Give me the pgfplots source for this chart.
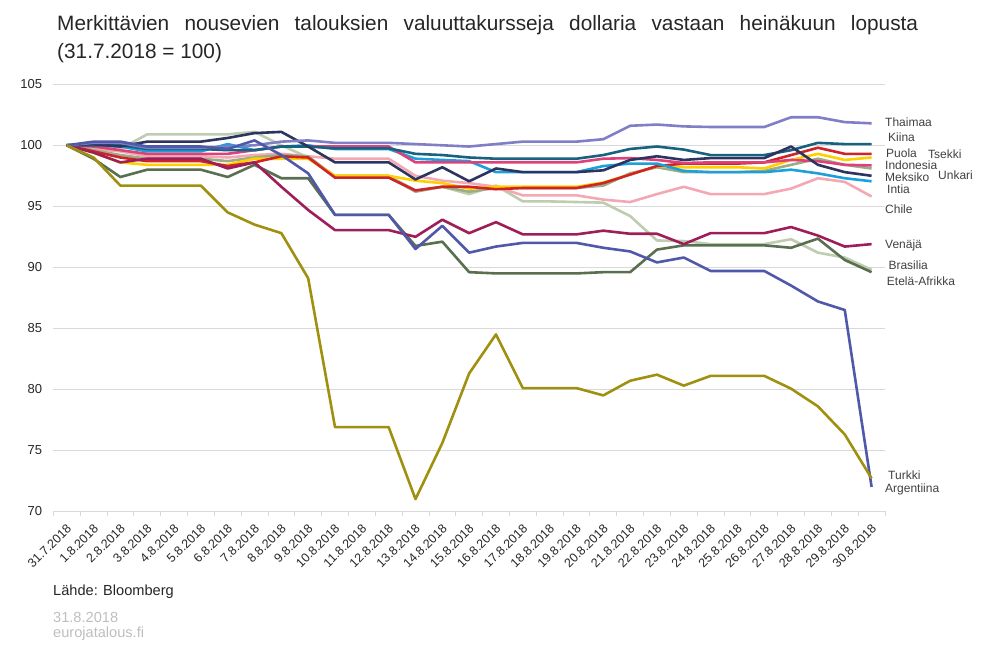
\documentclass[border=0pt]{standalone}
\usepackage{fontspec}
\setmainfont{Liberation Sans}
\usepackage{pgfplots}
\pgfplotsset{compat=1.18}
\usepackage{pgfplotstable}

\definecolor{cTha}{RGB}{128,126,198}
\definecolor{cKii}{RGB}{24,98,128}
\definecolor{cPuo}{RGB}{206,36,40}
\definecolor{cTse}{RGB}{255,208,0}
\definecolor{cInd}{RGB}{222,64,122}
\definecolor{cUnk}{RGB}{156,172,132}
\definecolor{cMek}{RGB}{44,52,96}
\definecolor{cInt}{RGB}{28,160,220}
\definecolor{cChi}{RGB}{244,168,180}
\definecolor{cBra}{RGB}{190,204,176}
\definecolor{cEA}{RGB}{90,110,80}
\definecolor{cVen}{RGB}{158,30,90}
\definecolor{cArg}{RGB}{80,88,170}
\definecolor{cTur}{RGB}{160,144,16}
\definecolor{gridg}{RGB}{217,217,217}
\definecolor{txt}{RGB}{38,38,38}
\definecolor{lbl}{RGB}{64,64,64}
\definecolor{foot}{RGB}{190,190,190}

\pgfplotstableread{
i tha kii puo tse ind unk mek int chi bra ea ven arg tur
0 100 100 100 100 100 100 100 100 100 100 100 100 100 100
1 100.2 100.0 99.5 99.4 99.9 99.6 100.1 100.0 99.7 100.0 98.9 99.4 100.3 99.0
2 100.2 100.0 99.0 98.6 99.6 99.2 99.9 99.9 99.5 99.7 97.4 98.6 100.3 96.7
3 99.8 99.7 98.7 98.4 99.3 98.9 100.3 99.5 99.1 100.9 98.0 98.9 99.9 96.7
4 99.8 99.7 98.7 98.4 99.3 98.9 100.3 99.5 99.1 100.9 98.0 98.9 99.9 96.7
5 99.8 99.7 98.7 98.4 99.3 98.9 100.3 99.5 99.1 100.9 98.0 98.9 99.9 96.7
6 99.9 99.6 98.3 98.4 99.3 98.7 100.6 100.1 99.0 100.9 97.4 98.1 99.7 94.5
7 100.0 99.6 98.6 98.9 99.6 99.0 101.0 99.6 99.2 101.1 98.4 98.6 100.4 93.5
8 100.3 99.9 99.1 98.9 99.9 99.2 101.1 99.9 99.3 100.0 97.3 96.6 99.2 92.8
9 100.4 99.9 99.0 98.9 99.9 99.1 99.9 100.0 99.1 99.0 97.3 94.7 97.7 89.1
10 100.2 99.75 97.35 97.5 99.9 97.4 98.6 99.7 98.9 97.5 94.3 93.05 94.3 76.9
11 100.2 99.75 97.35 97.5 99.9 97.4 98.6 99.7 98.9 97.5 94.3 93.05 94.3 76.9
12 100.2 99.75 97.35 97.5 99.9 97.4 98.6 99.7 98.9 97.5 94.3 93.05 94.3 76.9
13 100.1 99.3 96.3 97.1 98.6 96.2 97.2 98.9 97.5 96.3 91.75 92.5 91.5 71.0
14 100.0 99.2 96.6 96.9 98.6 96.6 98.2 98.8 97.1 96.6 92.1 93.9 93.4 75.6
15 99.9 99.0 96.6 96.45 98.6 96.2 97.05 98.7 96.9 96.0 89.6 92.8 91.2 81.3
16 100.1 98.9 96.4 96.6 98.6 96.5 98.1 97.8 96.6 96.7 89.5 93.7 91.7 84.5
17 100.3 98.9 96.5 96.6 98.6 96.5 97.8 97.8 95.9 95.4 89.5 92.7 92.0 80.1
18 100.3 98.9 96.5 96.6 98.6 96.5 97.8 97.8 95.9 95.4 89.5 92.7 92.0 80.1
19 100.3 98.9 96.5 96.6 98.6 96.5 97.8 97.8 95.9 95.35 89.5 92.7 92.0 80.1
20 100.5 99.2 96.9 96.95 98.9 96.7 97.95 98.3 95.55 95.3 89.6 93.0 91.6 79.5
21 101.6 99.7 97.6 97.6 98.95 97.7 98.8 98.5 95.35 94.2 89.6 92.75 91.3 80.7
22 101.7 99.9 98.3 98.3 98.8 98.2 99.1 98.5 96.0 92.2 91.45 92.75 90.4 81.2
23 101.55 99.65 98.5 98.2 98.55 97.8 98.8 97.9 96.6 92.15 91.8 91.9 90.8 80.3
24 101.5 99.2 98.5 98.2 98.6 97.8 98.95 97.8 96.0 91.9 91.8 92.8 89.7 81.1
25 101.5 99.2 98.5 98.2 98.6 97.8 98.95 97.8 96.0 91.9 91.8 92.8 89.7 81.1
26 101.5 99.2 98.6 98.1 98.6 97.9 98.95 97.8 96.0 91.9 91.8 92.8 89.7 81.1
27 102.3 99.6 99.2 98.8 98.8 98.4 99.9 98.0 96.45 92.3 91.6 93.3 88.5 80.05
28 102.3 100.2 99.8 99.3 98.7 98.9 98.4 97.7 97.3 91.2 92.35 92.6 87.2 78.6
29 101.9 100.1 99.3 98.8 98.4 98.4 97.8 97.3 97.0 90.8 90.6 91.7 86.5 76.3
30 101.8 100.1 99.3 99.0 98.35 98.1 97.5 97.05 95.8 89.8 89.6 91.9 72.0 72.7
}\data

\begin{document}
\begin{tikzpicture}
\path[use as bounding box] (0,0) rectangle (1001bp,654bp);
\begin{axis}[
  at={(53.3bp,142.7bp)}, anchor=south west,
  scale only axis, width=831.7bp, height=427bp,
  xmin=-0.5, xmax=30.5, ymin=70, ymax=105,
  axis lines*=left,
  x axis line style={draw=gridg, line width=0.8bp},
  y axis line style={draw=none},
  xtick={0,...,30},
  xticklabels={31.7.2018,1.8.2018,2.8.2018,3.8.2018,4.8.2018,5.8.2018,6.8.2018,7.8.2018,8.8.2018,9.8.2018,10.8.2018,11.8.2018,12.8.2018,13.8.2018,14.8.2018,15.8.2018,16.8.2018,17.8.2018,18.8.2018,19.8.2018,20.8.2018,21.8.2018,22.8.2018,23.8.2018,24.8.2018,25.8.2018,26.8.2018,27.8.2018,28.8.2018,29.8.2018,30.8.2018},
  minor xtick={-0.5,0.5,...,30.5},
  ytick={70,75,...,105},
  major tick length=0pt,
  minor tick length=5bp,
  tick align=outside,
  minor x tick style={draw=gridg, line width=0.8bp},
  ymajorgrids,
  grid style={draw=gridg, line width=0.8bp},
  /pgf/number format/assume math mode=true,
  xticklabel style={font=\fontsize{12.5bp}{14bp}\selectfont, text=txt, inner sep=0pt, xshift=2.5bp, yshift=-15bp, rotate=45, anchor=east},
  yticklabel style={font=\fontsize{13bp}{15bp}\selectfont, text=txt, inner sep=0pt, xshift=-11bp, anchor=east},
  every axis plot/.append style={line width=2.6bp, line join=round, mark=none},
  clip=false,
]
\addplot[cBra] table[x=i,y=bra]{\data};
\addplot[cChi] table[x=i,y=chi]{\data};
\addplot[cUnk] table[x=i,y=unk]{\data};
\addplot[cTse] table[x=i,y=tse]{\data};
\addplot[cPuo] table[x=i,y=puo]{\data};
\addplot[cInt] table[x=i,y=int]{\data};
\addplot[cInd] table[x=i,y=ind]{\data};
\addplot[cKii] table[x=i,y=kii]{\data};
\addplot[cMek] table[x=i,y=mek]{\data};
\addplot[cTha] table[x=i,y=tha]{\data};
\addplot[cEA] table[x=i,y=ea]{\data};
\addplot[cVen] table[x=i,y=ven]{\data};
\addplot[cArg] table[x=i,y=arg]{\data};
\addplot[cTur] table[x=i,y=tur]{\data};
\end{axis}
% title
\node[anchor=base west, inner sep=0pt, text=txt, font=\fontsize{20.8bp}{25bp}\selectfont] at (57bp,623.5bp) {\makebox[861bp][s]{Merkittävien nousevien talouksien valuuttakursseja dollaria vastaan heinäkuun lopusta}};
\node[anchor=base west, inner sep=0pt, text=txt, font=\fontsize{20.8bp}{25bp}\selectfont] at (57bp,595.5bp) {(31.7.2018 = 100)};
% series labels
\begin{scope}[every node/.style={anchor=base west, inner sep=0pt, text=lbl, font=\fontsize{12bp}{14bp}\selectfont}]
\node at (885bp,527bp) {Thaimaa};
\node at (888bp,512bp) {Kiina};
\node at (886bp,496.4bp) {Puola};
\node at (928bp,495.4bp) {Tsekki};
\node at (885bp,484bp) {Indonesia};
\node at (885bp,472.4bp) {Meksiko};
\node at (938bp,474.7bp) {Unkari};
\node at (887bp,460.7bp) {Intia};
\node at (885bp,440.4bp) {Chile};
\node at (885bp,405.7bp) {Venäjä};
\node at (888.3bp,384bp) {Brasilia};
\node at (886.7bp,368bp) {Etelä-Afrikka};
\node at (888bp,174.7bp) {Turkki};
\node at (885bp,161.7bp) {Argentiina};
\end{scope}
% footer
\node[anchor=base west, inner sep=0pt, text=txt, font=\fontsize{14.6bp}{17bp}\selectfont] at (53bp,58.5bp) {Lähde: Bloomberg};
\node[anchor=base west, inner sep=0pt, text=foot, font=\fontsize{14.6bp}{17bp}\selectfont] at (53bp,32bp) {31.8.2018};
\node[anchor=base west, inner sep=0pt, text=foot, font=\fontsize{14.6bp}{17bp}\selectfont] at (53bp,17bp) {eurojatalous.fi};
\end{tikzpicture}
\end{document}
